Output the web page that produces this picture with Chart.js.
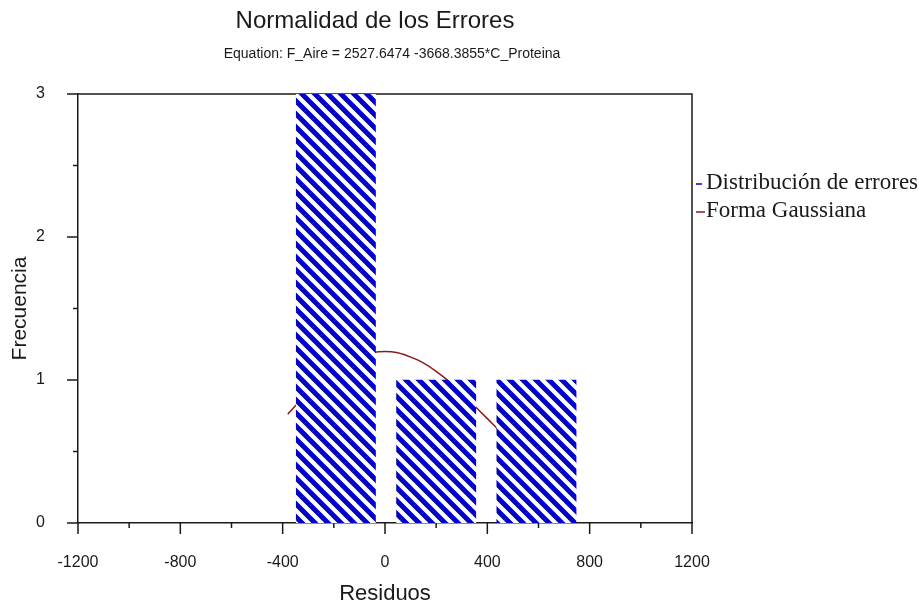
<!DOCTYPE html>
<html>
<head>
<meta charset="utf-8">
<title>Normalidad de los Errores</title>
<script src="https://cdn.jsdelivr.net/npm/chart.js@4.4.1/dist/chart.umd.min.js"></script>
<style>
    html, body { margin: 0; padding: 0; background: #fff; }
    #wrap { position: relative; width: 919px; height: 609px; }
</style>
</head>
<body>
<div id="wrap"><canvas id="residuos"></canvas></div>
<script>
// histograma de residuos (centro de clase / frecuencia)
const binCenters = [-192, 200, 592];
const binCounts = [3, 1, 1];

// forma gaussiana ajustada a los residuos
const gaussX = [-380, -350, -300, -250, -200, -150, -100, -50, 0, 50, 100, 150, 200, 250, 300, 350, 400, 450, 500, 550, 600, 650, 700];
const gaussY = [0.76, 0.82, 0.91, 0.99, 1.06, 1.12, 1.16, 1.19, 1.20, 1.19, 1.16, 1.12, 1.06, 0.99, 0.91, 0.82, 0.73, 0.64, 0.55, 0.47, 0.39, 0.32, 0.26];

const xLabelStep = 400;
const yLabelStep = 1;

const chartTitle = 'Normalidad de los Errores';
const chartSubtitle = 'Equation: F_Aire = 2527.6474 -3668.3855*C_Proteina';
const seriesNames = ['Distribución de errores', 'Forma Gaussiana'];
const axisNames = ['Residuos', 'Frecuencia'];

const SANS = '"Liberation Sans", Arial, sans-serif';
const SERIF = '"Liberation Serif", "Times New Roman", serif';
const INK = '#1a1a1a';
const BAR_BLUE = '#0000c8';
const CURVE_RED = '#8b1a1a';

function makeHatch(color) {
    const s = 13;
    const c = document.createElement('canvas');
    c.width = s;
    c.height = s;
    const g = c.getContext('2d');
    g.fillStyle = '#fff';
    g.fillRect(0, 0, s, s);
    g.strokeStyle = color;
    g.lineWidth = 5;
    g.beginPath();
    for (let k = -1; k <= 1; k++) {
        g.moveTo(k * s - 3, -3);
        g.lineTo(k * s + s + 3, s + 3);
    }
    g.stroke();
    return g.createPattern(c, 'repeat');
}

// marco superior/derecho y marcas de los ejes (largas con etiqueta, cortas sin ella)
const framePlugin = {
    id: 'frame',
    beforeDatasetsDraw(chart) {
        const { ctx, chartArea: a, scales: { x, y } } = chart;
        ctx.save();
        ctx.strokeStyle = INK;
        ctx.lineWidth = 1.5;
        ctx.beginPath();
        ctx.moveTo(a.left, a.top);
        ctx.lineTo(a.right, a.top);
        ctx.lineTo(a.right, a.bottom);
        x.ticks.forEach(t => {
            const px = x.getPixelForValue(t.value);
            const len = t.value % xLabelStep === 0 ? 11 : 5;
            ctx.moveTo(px, a.bottom);
            ctx.lineTo(px, a.bottom + len);
        });
        y.ticks.forEach(t => {
            const py = y.getPixelForValue(t.value);
            const len = t.value % yLabelStep === 0 ? 11 : 5;
            ctx.moveTo(a.left, py);
            ctx.lineTo(a.left - len, py);
        });
        ctx.stroke();
        ctx.restore();
    }
};

// titulo, ecuacion y leyenda
const textPlugin = {
    id: 'textos',
    afterDraw(chart) {
        const { ctx } = chart;
        ctx.save();
        ctx.fillStyle = INK;
        ctx.textAlign = 'center';
        ctx.textBaseline = 'alphabetic';
        ctx.font = '24px ' + SANS;
        ctx.fillText(chartTitle, 375, 28);
        ctx.font = '14px ' + SANS;
        ctx.fillText(chartSubtitle, 392, 58);

        ctx.textAlign = 'left';
        ctx.font = '23px ' + SERIF;
        const rows = [
            { color: BAR_BLUE, len: 6, base: 189 },
            { color: CURVE_RED, len: 9, base: 217 }
        ];
        chart.data.datasets.forEach((ds, i) => {
            const r = rows[i];
            ctx.strokeStyle = r.color;
            ctx.lineWidth = 1.5;
            ctx.beginPath();
            ctx.moveTo(696, r.base - 5);
            ctx.lineTo(696 + r.len, r.base - 5);
            ctx.stroke();
            ctx.fillStyle = INK;
            ctx.fillText(ds.label, 706, r.base);
        });
        ctx.restore();
    }
};

new Chart(document.getElementById('residuos'), {
    type: 'bar',
    data: {
        datasets: [{
            type: 'bar',
            label: seriesNames[0],
            data: binCenters.map((c, i) => ({ x: c, y: binCounts[i] })),
            backgroundColor: makeHatch(BAR_BLUE),
            borderWidth: 0,
            barThickness: 'flex',
            categoryPercentage: 1,
            barPercentage: 0.79,
            order: 0
        }, {
            type: 'line',
            label: seriesNames[1],
            data: gaussX.map((v, i) => ({ x: v, y: gaussY[i] })),
            borderColor: CURVE_RED,
            borderWidth: 1.5,
            pointRadius: 0,
            tension: 0.3,
            fill: false,
            order: 1
        }]
    },
    plugins: [framePlugin, textPlugin],
    options: {
        responsive: true,
        maintainAspectRatio: false,
        animation: false,
        layout: {
            padding: { top: 94, right: 227, left: 0, bottom: 0 }
        },
        plugins: {
            legend: { display: false },
            tooltip: { enabled: false }
        },
        scales: {
            x: {
                type: 'linear',
                offset: false,
                min: -1200,
                max: 1200,
                afterFit: s => { s.height = 86; },
                grid: { display: false },
                border: { display: true, color: INK, width: 1.5 },
                ticks: {
                    stepSize: 200,
                    padding: 22,
                    maxRotation: 0,
                    autoSkip: false,
                    color: INK,
                    font: { family: SANS, size: 16 },
                    callback: v => (v % xLabelStep === 0 ? String(v) : '')
                },
                title: {
                    display: true,
                    text: axisNames[0],
                    color: INK,
                    font: { family: SANS, size: 22 },
                    padding: { top: 12, bottom: 2 }
                }
            },
            y: {
                min: 0,
                max: 3,
                afterFit: s => { s.width = 78; },
                grid: { display: false },
                border: { display: true, color: INK, width: 1.5 },
                ticks: {
                    stepSize: 0.5,
                    padding: 25,
                    autoSkip: false,
                    color: INK,
                    font: { family: SANS, size: 16 },
                    callback: v => (v % yLabelStep === 0 ? String(v) : '')
                },
                title: {
                    display: true,
                    text: axisNames[1],
                    color: INK,
                    font: { family: SANS, size: 21 },
                    padding: { top: 8, bottom: 0 }
                }
            }
        }
    }
});
</script>
</body>
</html>
